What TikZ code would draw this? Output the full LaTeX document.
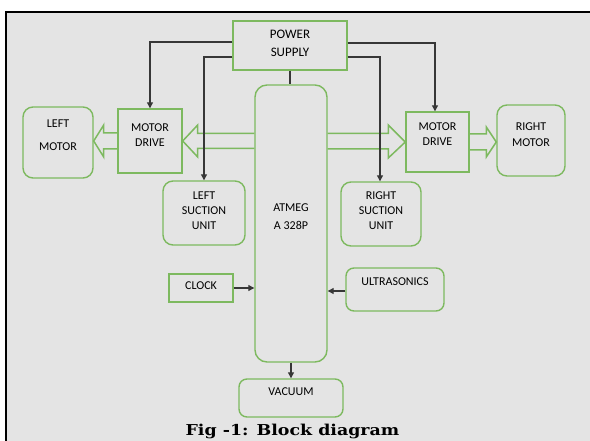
\documentclass[tikz,border=0pt]{standalone}
\usepackage{graphicx}
\usepackage{fontspec}
\newfontfamily\boxfont{Carlito}
\newfontfamily\capfont{DejaVu Serif}
\usetikzlibrary{calc,arrows.meta}

\definecolor{boxgreen}{RGB}{125,185,95}
\definecolor{paper}{RGB}{228,228,228}
\definecolor{wire}{RGB}{55,55,55}

\begin{document}
\begin{tikzpicture}[x=1pt, y=-1pt, >={Triangle[length=6pt,width=6pt]},
		box_style/.style={rectangle,draw=boxgreen,line width=1.4pt,inner sep=0pt,align=center,text=black,font=\boxfont\fontsize{12}{15}\selectfont},
		round_style/.style={box_style,rounded corners=10pt},
		edge_style/.style={draw=wire,line width=1.2pt,->},
		arrow_style/.style={draw=boxgreen,line width=1.5pt,line join=miter}]
		
		\useasboundingbox (0,0) rectangle (590,441);
		\fill[paper] (6,12) rectangle (590,441);
		\draw[line width=2.5pt] (6,441) -- (6,12) -- (590,12);
		
		\node[box_style,minimum width=114pt,minimum height=49pt,text depth=5pt,font=\boxfont\fontsize{13}{18}\selectfont] (power) at (290,45.5) {POWER\\SUPPLY};
		\node[round_style,rounded corners=12pt,minimum width=72pt,minimum height=277pt,text depth=13pt,font=\boxfont\fontsize{12}{18}\selectfont] (atmega) at (291,223.5) {ATMEG\\A 328P};
		\node[box_style,minimum width=64pt,minimum height=64pt,text depth=11pt] (ldrive) at (150,141) {MOTOR\\DRIVE};
		\node[round_style,minimum width=70pt,minimum height=71pt,text depth=14pt,font=\boxfont\fontsize{12}{23}\selectfont] (lmotor) at (58,142.5) {LEFT\\MOTOR};
		\node[box_style,minimum width=63pt,minimum height=60pt,text depth=15pt] (rdrive) at (437.5,142) {MOTOR\\DRIVE};
		\node[round_style,minimum width=68pt,minimum height=71pt,text depth=11pt,font=\boxfont\fontsize{12}{16}\selectfont] (rmotor) at (531,140.5) {RIGHT\\MOTOR};
		\node[round_style,minimum width=82pt,minimum height=64pt,text depth=5pt] (lsuction) at (204,213) {LEFT\\SUCTION\\UNIT};
		\node[round_style,minimum width=80pt,minimum height=64pt,text depth=6pt] (rsuction) at (381,214) {RIGHT\\SUCTION\\UNIT};
		\node[box_style,minimum width=64pt,minimum height=28pt,text depth=4pt] (clock) at (201,288) {CLOCK};
		\node[round_style,rounded corners=8pt,minimum width=98pt,minimum height=43pt,text depth=15pt] (ultra) at (395,289.5) {ULTRASONICS};
		\node[round_style,rounded corners=8pt,minimum width=104pt,minimum height=38pt,text depth=12pt] (vacuum) at (291,398) {VACUUM};
		
		\node[font=\capfont\bfseries\fontsize{15}{17}\selectfont] (caption) at (292.5,431.5) {\scalebox{1.16}[1]{Fig -1: Block diagram}};
		
		% hollow arrows
		\coordinate (lstart) at (atmega.west|-ldrive.east);
		\coordinate (ltip) at (lmotor.east|-ldrive.west);
		\coordinate (rstart) at (atmega.east|-rdrive.west);
		\coordinate (rtip) at (rmotor.west|-rdrive.east);
		\draw[arrow_style] ($(lstart)+(0,-7.5)$) -- ($(ldrive.east)+(15,-7.5)$) -- ($(ldrive.east)+(15,-16)$) -- (ldrive.east) -- ($(ldrive.east)+(15,16)$) -- ($(ldrive.east)+(15,7.5)$) -- ($(lstart)+(0,7.5)$);
		\draw[arrow_style] ($(ldrive.west)+(0,-8)$) -- ($(ltip)+(10,-8)$) -- ($(ltip)+(10,-16)$) -- (ltip) -- ($(ltip)+(10,16)$) -- ($(ltip)+(10,8)$) -- ($(ldrive.west)+(0,8)$);
		\draw[arrow_style] ($(rstart)+(0,-8.5)$) -- ($(rdrive.west)+(-17,-8.5)$) -- ($(rdrive.west)+(-17,-17)$) -- (rdrive.west) -- ($(rdrive.west)+(-17,16)$) -- ($(rdrive.west)+(-17,7)$) -- ($(rstart)+(0,7)$);
		\draw[arrow_style] ($(rdrive.east)+(0,-8)$) -- ($(rtip)+(-10,-8)$) -- ($(rtip)+(-10,-15)$) -- (rtip) -- ($(rtip)+(-10,15)$) -- ($(rtip)+(-10,8)$) -- ($(rdrive.east)+(0,8)$);
		
		% supply and signal lines
		\draw[edge_style] ([yshift=3.5pt]power.west) -| (ldrive.north);
		\draw[edge_style] ([yshift=-11.5pt]power.west) -| (lsuction.north);
		\draw[edge_style] ([yshift=2.5pt]power.east) -| ([xshift=-2.5pt]rdrive.north);
		\draw[edge_style] ([yshift=-11.5pt]power.east) -| ([xshift=-1pt]rsuction.north);
		\draw[edge_style,-] (power.south) -- (power.south|-atmega.north);
		\draw[edge_style] (clock.east) -- (clock.east-|atmega.west);
		\draw[edge_style] ([yshift=-1.5pt]ultra.west) -- ([yshift=-1.5pt]ultra.west-|atmega.east);
		\draw[edge_style] (atmega.south) -- (atmega.south|-vacuum.north);
		
		\end{tikzpicture}
\end{document}
